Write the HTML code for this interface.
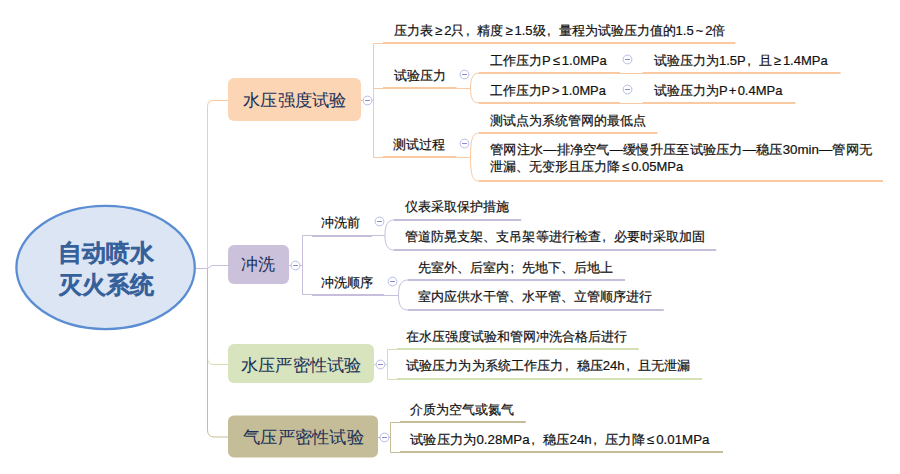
<!DOCTYPE html>
<html><head><meta charset="utf-8">
<style>
html,body{margin:0;padding:0;background:#fff;width:900px;height:474px;overflow:hidden;position:relative;font-family:"Liberation Sans",sans-serif;}
svg{position:absolute;left:0;top:0}
.t{position:absolute;white-space:nowrap;font-size:13px;line-height:13px;color:#111;-webkit-text-stroke:0.2px #111;transform-origin:0 0}
i{font-style:normal;margin:0 2px}
i.p{margin:0 1.2px}
u{text-decoration:none;display:inline-block;width:13px;padding-left:1.5px;box-sizing:border-box}
.b{position:absolute;white-space:nowrap;font-size:17px;line-height:17px;color:#1b3158;-webkit-text-stroke:0.05px #1b3158;transform-origin:0 0}
.c{position:absolute;white-space:nowrap;font-size:24px;line-height:32px;color:#35609a;-webkit-text-stroke:1.3px #35609a;text-align:center}
</style></head><body>
<svg width="900" height="474" viewBox="0 0 900 474" fill="none">
<ellipse cx="105.6" cy="267.5" rx="89.2" ry="61.6" fill="#dbe5f3" stroke="#5b8dd3" stroke-width="2.3"/>
<path d="M196 268.5 H207.5 V106.5 Q207.5 100.5 213.5 100.5 H228" stroke="#f9c9a2"/>
<path d="M196 268.5 H207.5 L212 265.5 H228" stroke="#c7bedb"/>
<path d="M207.5 268.5 V358 Q207.5 364.5 214 364.5 H228" stroke="#d3dfb5"/>
<path d="M207.5 268.5 V430 Q207.5 437 214.5 437 H228" stroke="#c4bd97"/>
<rect x="228" y="78" width="133" height="43" rx="6" fill="#fcd5b5"/>
<rect x="228" y="245" width="61" height="39" rx="6" fill="#ccc1da"/>
<rect x="228" y="344" width="146" height="39" rx="6" fill="#d7e4bd"/>
<rect x="228" y="415.5" width="150" height="42" rx="6" fill="#c4bd97"/>
<path d="M361 100.5 H373.5" stroke="#f9c9a2" stroke-width="1"/>
<path d="M383 157.5 H373.5 V43.5 H383" stroke="#f9c9a2" stroke-width="1"/>
<path d="M383 43 H735.5" stroke="#f9c9a2" stroke-width="2"/>
<path d="M374 88.5 H383" stroke="#f9c9a2" stroke-width="1"/>
<path d="M383 88 H456.5" stroke="#f9c9a2" stroke-width="2"/>
<path d="M383 157 H456.5" stroke="#f9c9a2" stroke-width="2"/>
<path d="M456.5 88.5 H470.5" stroke="#f9c9a2" stroke-width="1"/>
<path d="M479 73 C473.0 73 470.5 78 470.5 88.5 C470.5 98 473.0 103 479 103" stroke="#f9c9a2" stroke-width="1"/>
<path d="M479 73 H620" stroke="#f9c9a2" stroke-width="2"/>
<path d="M479 103 H620" stroke="#f9c9a2" stroke-width="2"/>
<path d="M620 73.5 H642.5" stroke="#f9c9a2" stroke-width="1"/>
<path d="M620 103.5 H642.5" stroke="#f9c9a2" stroke-width="1"/>
<path d="M642.5 73 H840.5" stroke="#f9c9a2" stroke-width="2"/>
<path d="M642.5 103 H795.5" stroke="#f9c9a2" stroke-width="2"/>
<path d="M456.5 157.5 H470.5" stroke="#f9c9a2" stroke-width="1"/>
<path d="M479 133 C473.0 133 470.5 138 470.5 157.5 C470.5 176 473.0 181 479 181" stroke="#f9c9a2" stroke-width="1"/>
<path d="M479 133 H657.5" stroke="#f9c9a2" stroke-width="2"/>
<path d="M479 181 H883" stroke="#f9c9a2" stroke-width="2"/>
<path d="M289 265.5 H302.5" stroke="#c7bedb" stroke-width="1"/>
<path d="M312 235.5 H302.5 V294.5 H312" stroke="#c7bedb" stroke-width="1"/>
<path d="M312 236 H372" stroke="#c7bedb" stroke-width="2"/>
<path d="M312 295 H384" stroke="#c7bedb" stroke-width="2"/>
<path d="M372 235.5 H385" stroke="#c7bedb" stroke-width="1"/>
<path d="M394 220 C387.5 220 385 225 385 235.5 C385 245 387.5 250 394 250" stroke="#c7bedb" stroke-width="1"/>
<path d="M394 220 H521.25" stroke="#c7bedb" stroke-width="2"/>
<path d="M394 250 H716.25" stroke="#c7bedb" stroke-width="2"/>
<path d="M384 295.5 H398.5" stroke="#c7bedb" stroke-width="1"/>
<path d="M408 280 C401.0 280 398.5 285 398.5 295.5 C398.5 305 401.0 310 408 310" stroke="#c7bedb" stroke-width="1"/>
<path d="M408 280 H625" stroke="#c7bedb" stroke-width="2"/>
<path d="M408 310 H663.75" stroke="#c7bedb" stroke-width="2"/>
<path d="M374 364.5 H387.5" stroke="#d3dfb5" stroke-width="1"/>
<path d="M397 349.5 H387.5 V379.5 H397" stroke="#d3dfb5" stroke-width="1"/>
<path d="M397 349 H638.75" stroke="#d3dfb5" stroke-width="2"/>
<path d="M397 379 H702" stroke="#d3dfb5" stroke-width="2"/>
<path d="M378 437.5 H390.5" stroke="#c4bd97" stroke-width="1"/>
<path d="M400 422.5 H390.5 V452.5 H400" stroke="#c4bd97" stroke-width="1"/>
<path d="M400 422 H525.75" stroke="#c4bd97" stroke-width="2"/>
<path d="M400 452 H723" stroke="#c4bd97" stroke-width="2"/>
<circle cx="367.5" cy="100.5" r="4.4" stroke="#b3bcea" stroke-width="1" fill="#fff"/><path d="M365.0 100.5 H370.0" stroke="#8f88d4" stroke-width="1"/>
<circle cx="295.5" cy="265.5" r="4.4" stroke="#b3bcea" stroke-width="1" fill="#fff"/><path d="M293.0 265.5 H298.0" stroke="#8f88d4" stroke-width="1"/>
<circle cx="380.5" cy="364.5" r="4.4" stroke="#b3bcea" stroke-width="1" fill="#fff"/><path d="M378.0 364.5 H383.0" stroke="#8f88d4" stroke-width="1"/>
<circle cx="384.5" cy="437.5" r="4.4" stroke="#b3bcea" stroke-width="1" fill="#fff"/><path d="M382.0 437.5 H387.0" stroke="#8f88d4" stroke-width="1"/>
<circle cx="464.5" cy="74.5" r="4.4" stroke="#b3bcea" stroke-width="1" fill="#fff"/><path d="M462.0 74.5 H467.0" stroke="#8f88d4" stroke-width="1"/>
<circle cx="464.5" cy="143.5" r="4.4" stroke="#b3bcea" stroke-width="1" fill="#fff"/><path d="M462.0 143.5 H467.0" stroke="#8f88d4" stroke-width="1"/>
<circle cx="379.5" cy="221.5" r="4.4" stroke="#b3bcea" stroke-width="1" fill="#fff"/><path d="M377.0 221.5 H382.0" stroke="#8f88d4" stroke-width="1"/>
<circle cx="392.5" cy="281.5" r="4.4" stroke="#b3bcea" stroke-width="1" fill="#fff"/><path d="M390.0 281.5 H395.0" stroke="#8f88d4" stroke-width="1"/>
<circle cx="627.5" cy="59.5" r="4.4" stroke="#b3bcea" stroke-width="1" fill="#fff"/><path d="M625.0 59.5 H630.0" stroke="#8f88d4" stroke-width="1"/>
<circle cx="627.5" cy="89.5" r="4.4" stroke="#b3bcea" stroke-width="1" fill="#fff"/><path d="M625.0 89.5 H630.0" stroke="#8f88d4" stroke-width="1"/>
</svg>
<div class="c" style="left:15px;top:237px;width:182px">自动喷水<br>灭火系统</div>
<div class="b" style="left:243px;top:92px;transform:scaleX(1.0149)">水压强度试验</div>
<div class="b" style="left:241px;top:256px">冲洗</div>
<div class="b" style="left:241px;top:356.5px;transform:scaleX(1.0127)">水压严密性试验</div>
<div class="b" style="left:243px;top:428.5px;transform:scaleX(1.0169)">气压严密性试验</div>
<div class="t" style="left:394px;top:23.7px">压力表<i>≥</i>2只<u>,</u>精度<i>≥</i>1.5级<u>,</u>量程为试验压力值的1.5<i>~</i>2倍</div>
<div class="t" style="left:394px;top:68.5px">试验压力</div>
<div class="t" style="left:490px;top:54px">工作压力P<i>≤</i>1.0MPa</div>
<div class="t" style="left:654px;top:54px">试验压力为1.5P<u>,</u>且<i>≥</i>1.4MPa</div>
<div class="t" style="left:490px;top:83.5px;transform:scaleX(0.9894)">工作压力P<i>&gt;</i>1.0MPa</div>
<div class="t" style="left:654px;top:83.5px">试验压力为P<i class="p">+</i>0.4MPa</div>
<div class="t" style="left:393px;top:137.5px">测试过程</div>
<div class="t" style="left:490px;top:113.5px">测试点为系统管网的最低点</div>
<div class="t" style="left:490px;top:142.5px;transform:scaleX(1.0235)">管网注水—排净空气—缓慢升压至试验压力—稳压30min—管网无</div>
<div class="t" style="left:490px;top:160px">泄漏、无变形且压力降<i>≤</i>0.05MPa</div>
<div class="t" style="left:321px;top:216px">冲洗前</div>
<div class="t" style="left:405px;top:200px">仪表采取保护措施</div>
<div class="t" style="left:405px;top:229.5px;transform:scaleX(1.0042)">管道防晃支架、支吊架等进行检查<u>,</u>必要时采取加固</div>
<div class="t" style="left:321px;top:275.5px">冲洗顺序</div>
<div class="t" style="left:418px;top:261px">先室外、后室内<u>;</u>先地下、后地上</div>
<div class="t" style="left:418px;top:290px">室内应供水干管、水平管、立管顺序进行</div>
<div class="t" style="left:406px;top:329.5px">在水压强度试验和管网冲洗合格后进行</div>
<div class="t" style="left:406px;top:359px;transform:scaleX(1.0089)">试验压力为为系统工作压力<u>,</u>稳压24h<u>,</u>且无泄漏</div>
<div class="t" style="left:410px;top:402.5px">介质为空气或氮气</div>
<div class="t" style="left:410px;top:432.5px;transform:scaleX(1.0221)">试验压力为0.28MPa<u>,</u>稳压24h<u>,</u>压力降<i>≤</i>0.01MPa</div>
</body></html>
